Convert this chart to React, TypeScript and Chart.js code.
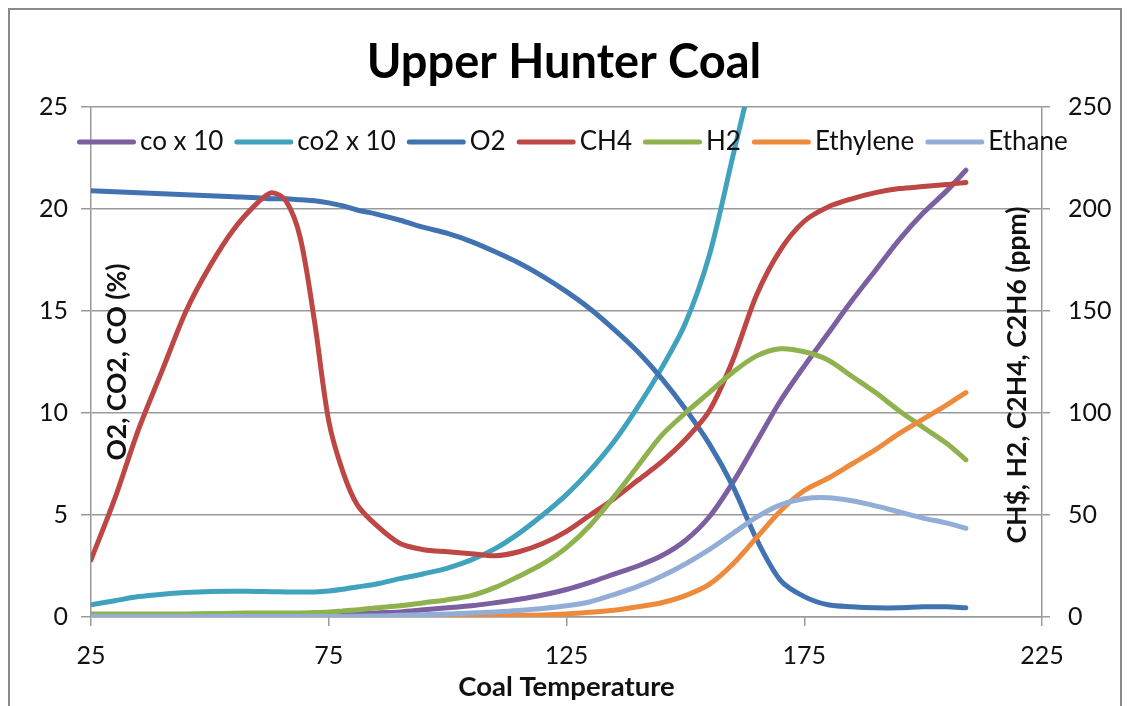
import { useEffect, useRef } from 'react';
import { Chart, registerables } from 'chart.js';

Chart.register(...registerables);

// ---------- data ----------
const temps = [25, 30, 35, 40, 45, 50, 55, 60, 63, 66, 69, 72, 75, 78, 81, 85, 90, 95, 100, 105, 110, 115, 120, 125, 130, 135, 140, 145, 150, 155, 160, 165, 170, 175, 180, 185, 190, 195, 200, 205, 209];

// left axis (%)
const coX10 = [0.05, 0.05, 0.05, 0.05, 0.06, 0.06, 0.07, 0.07, 0.08, 0.08, 0.08, 0.09, 0.1, 0.12, 0.15, 0.2, 0.25, 0.35, 0.45, 0.55, 0.7, 0.87, 1.08, 1.35, 1.7, 2.1, 2.5, 3.0, 3.75, 4.9, 6.6, 8.6, 10.6, 12.3, 13.9, 15.5, 17.0, 18.5, 19.8, 20.9, 21.9];
const co2X10 = [0.6, 0.8, 1.0, 1.12, 1.2, 1.25, 1.26, 1.25, 1.24, 1.23, 1.22, 1.23, 1.27, 1.36, 1.47, 1.62, 1.88, 2.12, 2.4, 2.8, 3.35, 4.1, 5.0, 6.0, 7.2, 8.6, 10.3, 12.2, 14.4, 17.7, 22.6, 27.5, null, null, null, null, null, null, null, null, null];
const o2 = [20.9, 20.85, 20.8, 20.75, 20.7, 20.65, 20.6, 20.55, 20.5, 20.5, 20.45, 20.4, 20.3, 20.15, 19.95, 19.75, 19.45, 19.1, 18.8, 18.4, 17.9, 17.35, 16.7, 15.95, 15.1, 14.1, 13.0, 11.7, 10.2, 8.5, 6.4, 3.8, 1.8, 1.0, 0.6, 0.5, 0.45, 0.45, 0.5, 0.5, 0.45];

// right axis (ppm)
const ch4 = [28, 58, 92, 121, 150, 172, 190, 203, 208, 204, 186, 145, 96, 71, 55, 45, 36, 33, 32, 31, 30, 32, 36, 42, 50, 58, 67, 76, 87, 101, 126, 158, 180, 194, 201, 205, 208, 210, 211, 212, 213];
const h2 = [1.5, 1.5, 1.5, 1.5, 1.5, 1.7, 1.8, 2.0, 2.0, 2.0, 2.0, 2.2, 2.5, 3.0, 3.5, 4.5, 5.5, 7.0, 8.5, 10.5, 14.5, 20, 26, 34, 45, 59, 74, 89, 100, 110, 120, 128, 131.5, 130, 126, 118, 110, 101, 93, 85, 77];
const ethylene = [0, 0, 0, 0, 0, 0, 0, 0, 0, 0, 0, 0, 0, 0, 0, 0, 0.2, 0.3, 0.4, 0.5, 0.6, 0.8, 1.0, 1.5, 2.3, 3.3, 5, 7, 10.5, 16, 26, 39, 52, 62, 68, 75, 82, 90, 97, 104, 110];
const ethane = [0.2, 0.2, 0.2, 0.2, 0.2, 0.2, 0.2, 0.2, 0.2, 0.2, 0.2, 0.2, 0.2, 0.3, 0.4, 0.5, 0.8, 1.1, 1.5, 2.0, 2.5, 3.2, 4.2, 5.5, 7.5, 11, 15, 20, 26, 33, 41, 49, 55, 58, 58.5, 57, 54.5, 51.5, 48.5, 46, 43.5];

const seriesNames = ['co x 10', 'co2 x 10', 'O2', 'CH4', 'H2', 'Ethylene', 'Ethane'];
const seriesValues = [coX10, co2X10, o2, ch4, h2, ethylene, ethane];
const seriesAxis = ['y', 'y', 'y', 'y1', 'y1', 'y1', 'y1'];
const seriesColors = ['#7C5FA0', '#40A2BC', '#4173B2', '#BC4744', '#8FB24F', '#EE8A3C', '#93AED6'];

const xTicks = [25, 75, 125, 175, 225];
const leftTicks = [0, 5, 10, 15, 20, 25];
const rightTicks = [0, 50, 100, 150, 200, 250];

const chartTitle = 'Upper Hunter Coal';
const xTitle = 'Coal Temperature';
const leftTitle = 'O2, CO2, CO (%)';
const rightTitle = 'CH$, H2, C2H4, C2H6 (ppm)';

const FONT = 'Lato';
const GRID = '#9a9a9a';
const TEXT = '#111111';

const decorPlugin = {
  id: 'decor',
  beforeDraw(chart: any) {
    const ctx = chart.ctx;
    ctx.save();
    ctx.fillStyle = '#ffffff';
    ctx.fillRect(0, 0, chart.width, chart.height);
    ctx.strokeStyle = '#8a8a8a';
    ctx.lineWidth = 2;
    ctx.beginPath();
    ctx.moveTo(9, chart.height + 5);
    ctx.lineTo(9, 9);
    ctx.lineTo(chart.width - 7, 9);
    ctx.lineTo(chart.width - 7, chart.height + 5);
    ctx.stroke();
    ctx.restore();
  },
  afterDraw(chart: any) {
    const ctx = chart.ctx;
    const area = chart.chartArea;
    ctx.save();
    // axis titles (inside plot, rotated)
    ctx.fillStyle = TEXT;
    ctx.font = `bold 26.5px ${FONT}`;
    ctx.textAlign = 'center';
    ctx.textBaseline = 'middle';
    ctx.save();
    ctx.translate(area.left + 26, (area.top + area.bottom) / 2);
    ctx.rotate(-Math.PI / 2);
    ctx.fillText(leftTitle, 0, 0);
    ctx.restore();
    ctx.save();
    ctx.translate(area.right - 25, (area.top + area.bottom) / 2 + 13);
    ctx.rotate(-Math.PI / 2);
    ctx.fillText(rightTitle, 0, 0);
    ctx.restore();

    // legend
    ctx.font = `26px ${FONT}`;
    ctx.textAlign = 'left';
    ctx.textBaseline = 'middle';
    let x = area.left - 14;
    const y = area.top + 35;
    chart.data.datasets.forEach((ds: any) => {
      ctx.strokeStyle = ds.borderColor;
      ctx.lineWidth = 5;
      ctx.lineCap = 'round';
      ctx.beginPath();
      ctx.moveTo(x + 2.5, y);
      ctx.lineTo(x + 56.5, y);
      ctx.stroke();
      x += 63;
      ctx.fillStyle = TEXT;
      ctx.fillText(ds.label, x, y);
      x += ctx.measureText(ds.label).width + 11;
    });
    ctx.restore();
  },
};

export default function App() {
  const ref = useRef<HTMLCanvasElement | null>(null);

  useEffect(() => {
    if (!ref.current) return;
    const datasets = seriesNames.map((name, i) => ({
      label: name,
      data: temps.map((t, j) => ({ x: t, y: seriesValues[i][j] })),
      yAxisID: seriesAxis[i],
      borderColor: seriesColors[i],
      backgroundColor: seriesColors[i],
      borderWidth: 5,
      pointRadius: 0,
      pointHoverRadius: 0,
      tension: 0.3,
      borderCapStyle: 'round' as const,
      borderJoinStyle: 'round' as const,
      fill: false,
      spanGaps: false,
      order: seriesNames.length - i,
    }));

    const chart = new Chart(ref.current, {
      type: 'line',
      data: { datasets },
      plugins: [decorPlugin],
      options: {
        responsive: false,
        animation: false,
        layout: { padding: 0 },
        plugins: {
          legend: { display: false },
          tooltip: { enabled: false },
          title: {
            display: true,
            text: chartTitle,
            color: '#000',
            font: { family: FONT, size: 47, weight: 'bold' },
            padding: { top: 35, bottom: 15.6 },
          },
        },
        scales: {
          x: {
            type: 'linear',
            min: 25,
            max: 225,
            afterBuildTicks: (s: any) => { s.ticks = xTicks.map((v) => ({ value: v })); },
            afterFit: (s: any) => { s.height = 89; },
            ticks: { color: TEXT, font: { family: FONT, size: 25 }, padding: 15, maxRotation: 0 },
            grid: { drawOnChartArea: false, tickLength: 9, color: GRID, lineWidth: 1.5 },
            border: { color: GRID, width: 1.5 },
            title: {
              display: true,
              text: xTitle,
              color: TEXT,
              font: { family: FONT, size: 27.5, weight: 'bold' },
              padding: { top: 0, bottom: 2 },
            },
          },
          y: {
            type: 'linear',
            position: 'left',
            min: 0,
            max: 25,
            afterBuildTicks: (s: any) => { s.ticks = leftTicks.map((v) => ({ value: v })); },
            afterFit: (s: any) => { s.width = 91; },
            ticks: { color: TEXT, font: { family: FONT, size: 25 }, padding: 13 },
            grid: { color: GRID, lineWidth: 1.5, tickLength: 10 },
            border: { color: GRID, width: 1.5 },
          },
          y1: {
            type: 'linear',
            position: 'right',
            min: 0,
            max: 250,
            afterBuildTicks: (s: any) => { s.ticks = rightTicks.map((v) => ({ value: v })); },
            afterFit: (s: any) => { s.width = 86; },
            ticks: { color: TEXT, font: { family: FONT, size: 25 }, padding: 18 },
            grid: { drawOnChartArea: false, color: GRID, lineWidth: 1.5, tickLength: 8 },
            border: { color: GRID, width: 1.5 },
          },
        },
      } as any,
    });
    return () => chart.destroy();
  }, []);

  return (
    <canvas
      ref={ref}
      width={1128}
      height={706}
      style={{ position: 'absolute', left: 0, top: 0, display: 'block' }}
    />
  );
}
